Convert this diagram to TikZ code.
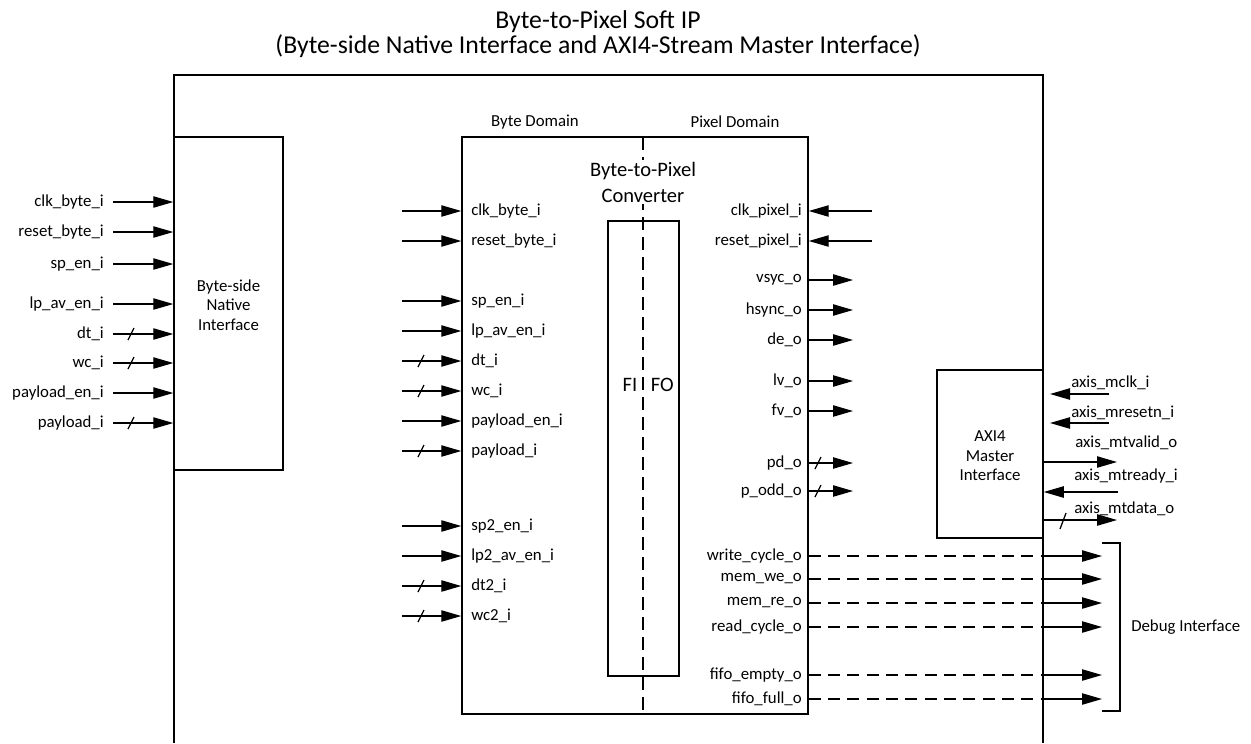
\documentclass[tikz,border=0pt]{standalone}
\usepackage{fontspec}
\setmainfont{Carlito}
\usetikzlibrary{arrows.meta,fit}
\begin{document}
\begin{tikzpicture}[x=0.75pt,y=-0.75pt,
  frame/.style={line width=1.1pt},
  box/.style={draw, line width=1.1pt, inner sep=0pt},
  sig/.style={line width=0.95pt, -{Triangle[length=15pt,width=8.5pt]}},
  dline/.style={line width=0.95pt, dash pattern=on 9pt off 5.5pt},
  divider/.style={line width=1.1pt, dash pattern=on 9.5pt off 5.5pt},
  slash/.style={line width=0.95pt},
  lbl/.style={font=\fontsize{12.6}{14.6}\selectfont, inner sep=0pt},
  midtxt/.style={font=\fontsize{15.4}{19.5}\selectfont, align=center},
  ttl/.style={font=\fontsize{19.3}{22}\selectfont, inner sep=0pt}
]
\useasboundingbox (0,0) rectangle (1251,743);

% title
\node[ttl] (title1) at (598,22) {Byte-to-Pixel Soft IP};
\node[ttl] (title2) at (598,46) {(Byte-side Native Interface and AXI4-Stream Master Interface)};

% outer frame (open at the bottom)
\coordinate (oBL) at (174,743);
\coordinate (oTL) at (174,75);
\coordinate (oTR) at (1043,75);
\coordinate (oBR) at (1043,743);
\draw[frame] (oBL) -- (oTL) -- (oTR) -- (oBR);

% boxes
\node[box, fit={(174,137) (283,470)}] (native) {};
\node[lbl, align=center] (nativetxt) at (228.5,305) {Byte-side\\Native\\Interface};

\node[box, fit={(462,137) (808,714)}] (conv) {};
\node[box, fit={(608,221) (679,676)}] (fifo) {};
\node[box, fit={(937,370) (1043,538)}] (axi) {};
\node[lbl, align=center] (axitxt) at (990,456) {AXI4\\Master\\Interface};

% divider
\coordinate (dvT) at (643,137);
\coordinate (dvB) at (643,714);
\draw[divider] (dvT) -- (dvB);
\node[midtxt, fill=white, inner sep=1pt] (convtxt) at (643,182) {Byte-to-Pixel\\Converter};
\node[midtxt, inner sep=0pt, anchor=east] (fi) at (637.5,385) {FI};
\node[midtxt, inner sep=0pt, anchor=west] (fo) at (650.5,385) {FO};

% domain labels
\node[lbl] (bytedom) at (535,122) {Byte Domain};
\node[lbl] (pixdom) at (735,122) {Pixel Domain};

% native interface inputs
\foreach \t/\y/\b [count=\i] in {clk\_byte\_i/202/0, reset\_byte\_i/232/0, sp\_en\_i/264/0,
  lp\_av\_en\_i/304/0, dt\_i/334/1, wc\_i/363/1, payload\_en\_i/393/0, payload\_i/423/1}{
  \coordinate (nl\i) at (113,\y);
  \node[lbl, anchor=east] (nlt\i) at (104,\y) {\t};
  \draw[sig] (nl\i) -- (nl\i -| native.west);
  \ifnum\b=1
    \coordinate (nls\i) at (131,\y);
    \draw[slash] ([shift={(-3,6)}]nls\i) -- ([shift={(3,-6)}]nls\i);
  \fi
}

% converter byte-side inputs
\foreach \t/\y/\b [count=\i] in {clk\_byte\_i/211/0, reset\_byte\_i/241/0, sp\_en\_i/301/0,
  lp\_av\_en\_i/331/0, dt\_i/361/1, wc\_i/391/1, payload\_en\_i/421/0, payload\_i/451/1,
  sp2\_en\_i/526/0, lp2\_av\_en\_i/556/0, dt2\_i/586/1, wc2\_i/616/1}{
  \coordinate (cl\i) at (402,\y);
  \node[lbl, anchor=west] (clt\i) at (471,\y) {\t};
  \draw[sig] (cl\i) -- (cl\i -| conv.west);
  \ifnum\b=1
    \coordinate (cls\i) at (421,\y);
    \draw[slash] ([shift={(-3,6)}]cls\i) -- ([shift={(3,-6)}]cls\i);
  \fi
}

% converter pixel-side inputs
\foreach \t/\y [count=\i] in {clk\_pixel\_i/211, reset\_pixel\_i/241}{
  \coordinate (cri\i) at (872,\y);
  \node[lbl, anchor=east] (crit\i) at (802,\y) {\t};
  \draw[sig] (cri\i) -- (cri\i -| conv.east);
}

% converter pixel-side outputs
\foreach \t/\y/\b [count=\i] in {vsyc\_o/280/0, hsync\_o/310/0, de\_o/340/0, lv\_o/381/0,
  fv\_o/411/0, pd\_o/463/1, p\_odd\_o/491/1}{
  \coordinate (cro\i) at (853,\y);
  \node[lbl, anchor=east] (crot\i) at (802,\y) {\t};
  \draw[sig] (cro\i -| conv.east) -- (cro\i);
  \ifnum\b=1
    \coordinate (cros\i) at (818,\y);
    \draw[slash] ([shift={(-3,6)}]cros\i) -- ([shift={(3,-6)}]cros\i);
  \fi
}

% debug outputs
\foreach \t/\y [count=\i] in {write\_cycle\_o/556, mem\_we\_o/579, mem\_re\_o/603,
  read\_cycle\_o/627, fifo\_empty\_o/675, fifo\_full\_o/699}{
  \coordinate (dbm\i) at (1043,\y);
  \coordinate (dbe\i) at (1102,\y);
  \node[lbl, anchor=east] (dbt\i) at (802,\y) {\t};
  \draw[dline] (dbm\i -| conv.east) -- (dbm\i);
  \draw[sig] (dbm\i) -- (dbe\i);
}

% debug bracket
\coordinate (brA) at (1102,543);
\coordinate (brB) at (1120,543);
\coordinate (brC) at (1120,711);
\coordinate (brD) at (1102,711);
\draw[line width=1pt] (brA) -- (brB) -- (brC) -- (brD);
\node[lbl, anchor=west] (dbglab) at (1131,627) {Debug Interface};

% AXI4 pins
\coordinate (ax1s) at (1109,394);  \coordinate (ax1e) at (1050,394);
\draw[sig] (ax1s) -- (ax1e);
\node[lbl, anchor=west] (ax1t) at (1071,383) {axis\_mclk\_i};

\coordinate (ax2s) at (1109,423);  \coordinate (ax2e) at (1050,423);
\draw[sig] (ax2s) -- (ax2e);
\node[lbl, anchor=west] (ax2t) at (1071,413) {axis\_mresetn\_i};

\coordinate (ax3e) at (1117,462);
\draw[sig] (ax3e -| axi.east) -- (ax3e);
\node[lbl, anchor=west] (ax3t) at (1075,443) {axis\_mtvalid\_o};

\coordinate (ax4s) at (1118,492);
\draw[sig] (ax4s) -- (ax4s -| axi.east);
\node[lbl, anchor=west] (ax4t) at (1074,476) {axis\_mtready\_i};

\coordinate (ax5e) at (1117,520);
\draw[sig] (ax5e -| axi.east) -- (ax5e);
\coordinate (ax5s) at (1063,521);
\draw[slash] ([shift={(-3,8)}]ax5s) -- ([shift={(3,-8)}]ax5s);
\node[lbl, anchor=west] (ax5t) at (1074,509) {axis\_mtdata\_o};
\end{tikzpicture}
\end{document}
